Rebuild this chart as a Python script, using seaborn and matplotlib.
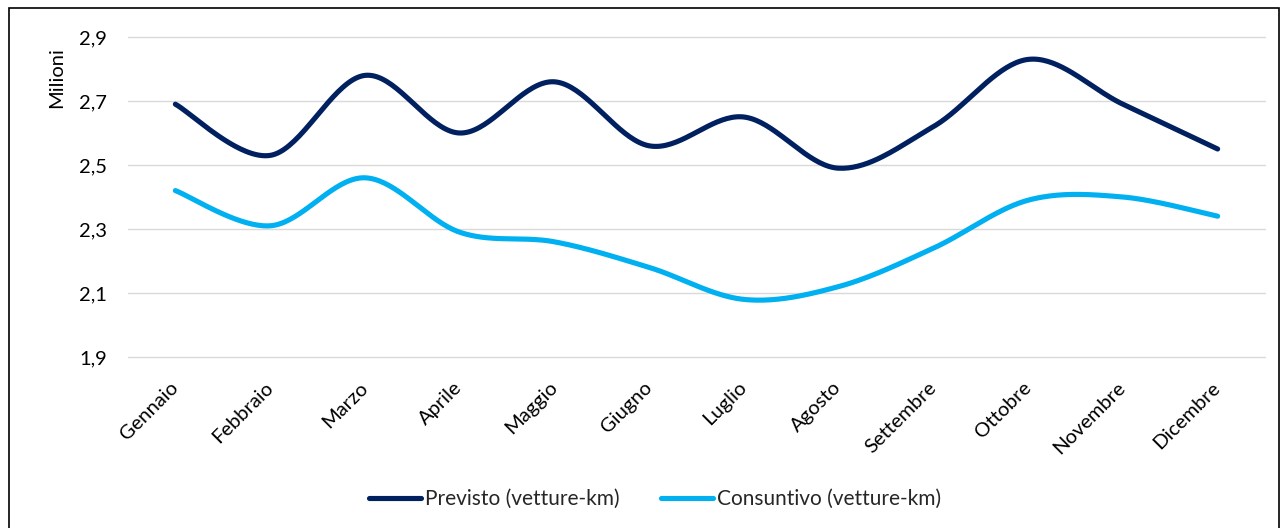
import numpy as np
import pandas as pd
import matplotlib
matplotlib.use("Agg")
import matplotlib.pyplot as plt
import seaborn as sns
from matplotlib.patches import Rectangle
from matplotlib.ticker import FixedLocator, FuncFormatter

# Monthly train-km, in millions
mesi = ["Gennaio", "Febbraio", "Marzo", "Aprile", "Maggio", "Giugno",
        "Luglio", "Agosto", "Settembre", "Ottobre", "Novembre", "Dicembre"]
previsto = [2.69, 2.53, 2.78, 2.60, 2.76, 2.56, 2.65, 2.49, 2.62, 2.83, 2.69, 2.55]
consuntivo = [2.42, 2.31, 2.46, 2.29, 2.26, 2.18, 2.08, 2.12, 2.24, 2.39, 2.40, 2.34]
serie = ["Previsto (vetture-km)", "Consuntivo (vetture-km)"]
colori = ["#002060", "#00B0F0"]
y_ticks = [1.9, 2.1, 2.3, 2.5, 2.7, 2.9]

FS = 14.5


def smooth(values, n=40):
    """Bezier smoothing through every point (Catmull-Rom style tangents)."""
    p = np.column_stack([np.arange(len(values)), values]).astype(float)
    ext = np.vstack([p[0], p, p[-1]])
    t = np.linspace(0, 1, n)[:, None]
    out = []
    for i in range(len(p) - 1):
        p0, p1, p2, p3 = ext[i], ext[i + 1], ext[i + 2], ext[i + 3]
        c1 = p1 + (p2 - p0) / 6
        c2 = p2 - (p3 - p1) / 6
        seg = ((1 - t) ** 3) * p1 + 3 * ((1 - t) ** 2) * t * c1 \
            + 3 * (1 - t) * t ** 2 * c2 + t ** 3 * p2
        out.append(seg if i == 0 else seg[1:])
    return np.vstack(out)


frames = []
for nome, vals in zip(serie, [previsto, consuntivo]):
    s = smooth(vals)
    frames.append(pd.DataFrame({"x": s[:, 0], "y": s[:, 1], "serie": nome}))
df = pd.concat(frames, ignore_index=True)

sns.set_theme(style="white")
plt.rcParams["font.family"] = ["Lato", "DejaVu Sans"]

fig = plt.figure(figsize=(12.84, 5.28), dpi=100)
ax = fig.add_axes([128 / 1284, 1 - 357 / 528, (1265 - 128) / 1284, 320 / 528])

sns.lineplot(data=df, x="x", y="y", hue="serie", palette=colori,
             sort=False, estimator=None, linewidth=3.7, ax=ax,
             legend=False, solid_capstyle="round")

ax.set_xlim(-0.5, len(mesi) - 0.5)
ax.set_ylim(1.9, 2.9)
ax.yaxis.set_major_locator(FixedLocator(y_ticks))
ax.yaxis.set_major_formatter(FuncFormatter(lambda v, _: f"{v:.1f}".replace(".", ",")))
ax.set_xticks(range(len(mesi)))
ax.set_xticklabels(mesi, rotation=45, ha="right", va="center",
                   rotation_mode="anchor", fontsize=FS, color="#000000")
ax.tick_params(axis="x", length=0, pad=20)
ax.tick_params(axis="y", length=0, pad=15, labelsize=FS, labelcolor="#000000")
ax.grid(axis="y", color="#D9D9D9", linewidth=1.0)
ax.grid(axis="x", visible=False)
for gl in ax.get_ygridlines():
    gl.set_clip_on(False)
for sp in ax.spines.values():
    sp.set_visible(False)
ax.set_xlabel("")
ax.set_ylabel("")
fig.text(57 / 1284, 1 - 78 / 528, "Milioni", rotation=90, ha="center",
         va="center", fontsize=FS, color="#000000")

handles = [plt.Line2D([], [], color=c, linewidth=3.7, solid_capstyle="round")
           for c in colori]
fig.legend(handles, serie, loc="center", bbox_to_anchor=(655 / 1284, 1 - 499 / 528),
           ncol=2, frameon=False, fontsize=15, handlelength=2.5,
           handletextpad=0.2, columnspacing=2.0)

fig.patches.append(Rectangle((9 / 1284, -0.05), (1279 - 9) / 1284, 1.05 - 8 / 528,
                             transform=fig.transFigure, fill=False,
                             edgecolor="#000000", linewidth=1.2))

fig.savefig("out.png", dpi=100, facecolor="white")
